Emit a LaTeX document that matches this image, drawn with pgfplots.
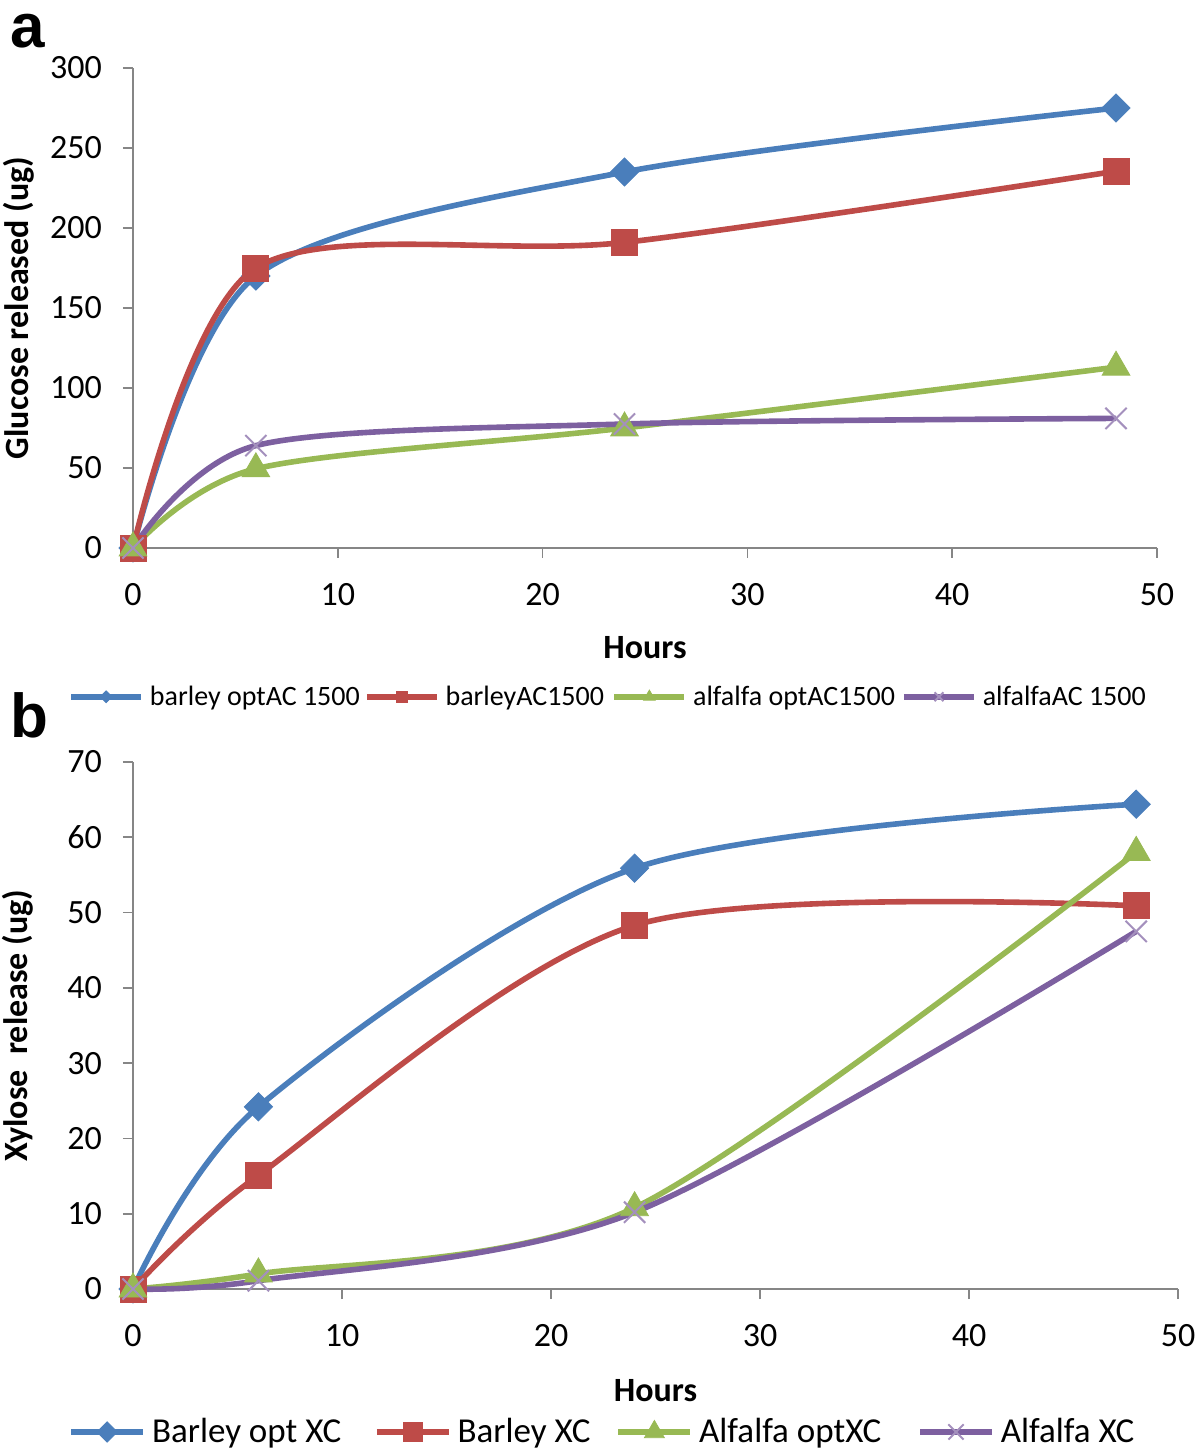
\documentclass[border=0pt]{standalone}
\usepackage{pgfplots}
\pgfplotsset{compat=1.18}
\usepackage{fontspec}
\setmainfont{Carlito}
\newfontfamily\panelfont{Liberation Sans}

\definecolor{cblue}{HTML}{4A7EBB}
\definecolor{cred}{HTML}{BE4B48}
\definecolor{cgreen}{HTML}{98B954}
\definecolor{cpurple}{HTML}{7D60A0}
\definecolor{axgray}{HTML}{868686}

\pgfplotsset{
  panel/.style={
    scale only axis,
    axis x line=bottom, axis y line=left,
    axis line style={-, axgray, line width=0.8pt},
    tick align=outside, major tick length=5pt,
    tick style={axgray, line width=0.8pt},
    xmin=0, xmax=50, xtick={0,10,...,50},
    ticklabel style={font=\fontsize{17}{20}\selectfont},
    xticklabel style={yshift=-9pt},
    yticklabel style={xshift=-7pt},
    /pgf/number format/assume math mode=true,
    clip=false,
    legend columns=4, legend cell align=left,
    legend style={draw=none, fill=none, inner sep=0pt, anchor=west,
      /tikz/column sep=0pt, nodes={inner xsep=3pt, inner ysep=1pt}},
  },
  sblue/.style={cblue, line width=2.8pt, smooth, mark=square*,
    mark options={solid, rotate=45, fill=cblue, draw=cblue, line width=0.4pt}, mark size=5pt},
  sred/.style={cred, line width=2.8pt, smooth, mark=square*,
    mark options={solid, fill=cred, draw=cred, line width=0.4pt}, mark size=6.5pt},
  sgreen/.style={cgreen, line width=2.8pt, smooth, mark=triangle*,
    mark options={solid, fill=cgreen, draw=cgreen, line width=0.4pt}, mark size=8pt},
  spurple/.style={cpurple, line width=2.8pt, smooth, mark=x,
    mark options={solid, draw=cpurple!70, line width=1pt}, mark size=7.5pt},
}

\begin{document}
\begin{tikzpicture}
\useasboundingbox (0,0) rectangle (600pt,726.5pt);

% panel a
\begin{axis}[panel,
  at={(66.5pt,452.5pt)}, anchor=south west,
  width=512pt, height=240pt,
  ymin=0, ymax=300, ytick={0,50,...,300},
  xlabel={Hours}, ylabel={Glucose released (ug)},
  every axis x label/.style={at={(axis description cs:0.5,-0.208)}, anchor=center,
    font=\bfseries\fontsize{17}{20}\selectfont},
  every axis y label/.style={at={(axis description cs:-0.112,0.5)}, rotate=90, anchor=center,
    font=\bfseries\fontsize{17}{20}\selectfont},
  legend style={at={(-0.0635,-0.310)}, font=\fontsize{14}{16}\selectfont},
  legend image code/.code={\draw[mark repeat=2, mark phase=2,
    every mark/.append style={scale=0.42}]
    plot coordinates {(0pt,0pt) (17.5pt,0pt) (35pt,0pt)};},
]
\addplot[sblue] coordinates {(0,0) (6,170) (24,235) (48,275)};
\addlegendentry{\makebox[104pt][l]{barley optAC 1500}}
\addplot[sred] coordinates {(0,0) (6,175) (24,191) (48,235.5)};
\addlegendentry{\makebox[80pt][l]{barleyAC1500}}
\addplot[sgreen] coordinates {(0,0) (6,49.5) (24,75) (48,113)};
\addlegendentry{\makebox[101pt][l]{alfalfa optAC1500}}
\addplot[spurple] coordinates {(0,0) (6,64) (24,77.5) (48,81)};
\addlegendentry{alfalfaAC 1500}
\end{axis}

% panel b
\begin{axis}[panel,
  at={(66.5pt,82pt)}, anchor=south west,
  width=522.5pt, height=263.5pt,
  ymin=0, ymax=70, ytick={0,10,...,70},
  xlabel={Hours}, ylabel={Xylose~ release (ug)},
  every axis x label/.style={at={(axis description cs:0.5,-0.192)}, anchor=center,
    font=\bfseries\fontsize{17}{20}\selectfont},
  every axis y label/.style={at={(axis description cs:-0.110,0.5)}, rotate=90, anchor=center,
    font=\bfseries\fontsize{17}{20}\selectfont},
  legend style={at={(-0.0622,-0.2713)}, font=\fontsize{17.5}{20}\selectfont},
  legend image code/.code={\draw[mark repeat=2, mark phase=2,
    every mark/.append style={scale=0.72}]
    plot coordinates {(0pt,0pt) (18pt,0pt) (36pt,0pt)};},
]
\addplot[sblue] coordinates {(0,0) (6,24.2) (24,55.9) (48,64.4)};
\addlegendentry{\makebox[108pt][l]{Barley opt XC}}
\addplot[sred] coordinates {(0,0) (6,15.1) (24,48.3) (48,50.9)};
\addlegendentry{\makebox[76pt][l]{Barley XC}}
\addplot[sgreen] coordinates {(0,0) (6,2) (24,10.8) (48,58)};
\addlegendentry{\makebox[106pt][l]{Alfalfa optXC}}
\addplot[spurple] coordinates {(0,0) (6,1.1) (24,10.2) (48,47.5)};
\addlegendentry{Alfalfa XC}
\end{axis}

\node[anchor=base west, inner sep=0pt, font=\panelfont\bfseries\fontsize{31}{31}\selectfont]
  at (5pt,702.5pt) {a};
\node[anchor=base west, inner sep=0pt, font=\panelfont\bfseries\fontsize{31}{31}\selectfont]
  at (5pt,357.5pt) {b};
\end{tikzpicture}
\end{document}
